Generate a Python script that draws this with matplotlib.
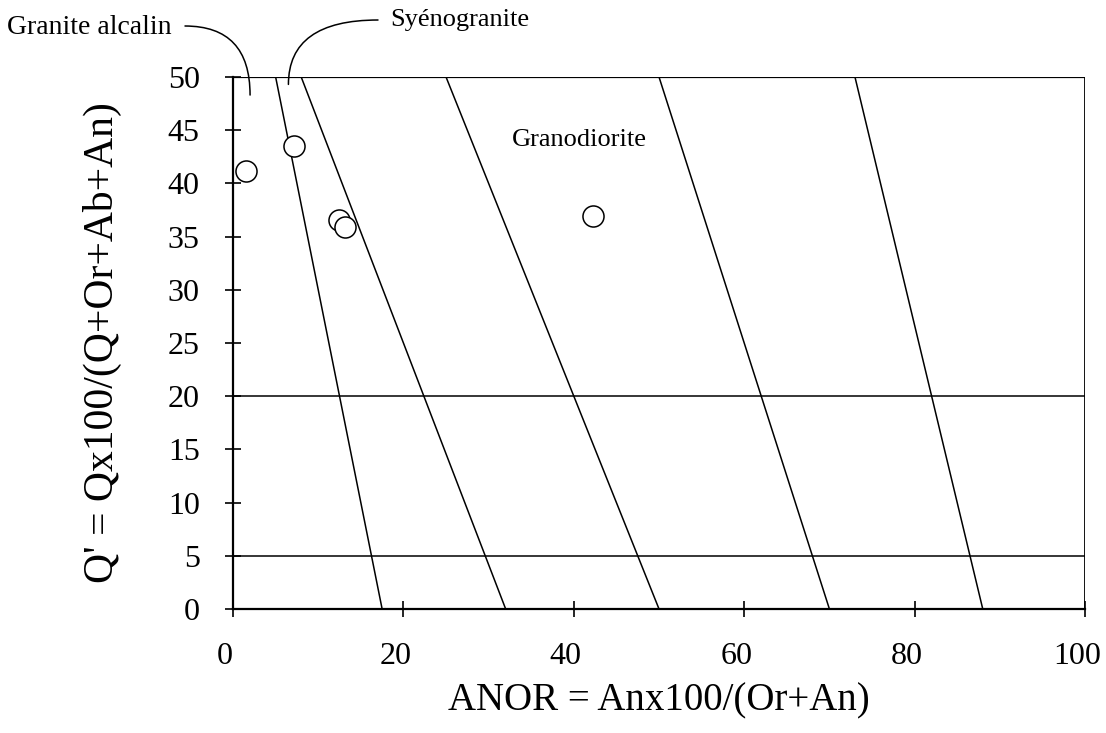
import matplotlib.pyplot as plt
from matplotlib.transforms import ScaledTranslation

plt.rcParams['font.family'] = ['Liberation Serif', 'DejaVu Serif']

# ANOR / Q' values of the samples
anor = [1.5, 7.1, 12.4, 13.2, 42.2]
qprime = [41.2, 43.5, 36.6, 35.9, 36.9]

# sloping field boundaries: ANOR at Q'=50 (top) and at Q'=0 (bottom)
bound_top = [5, 8, 25, 50, 73]
bound_bottom = [17.5, 32, 50, 70, 88]
# horizontal boundaries
hlines = [5, 20]

fig = plt.figure(figsize=(11.06, 7.33), dpi=100)
ax = fig.add_axes([0.2107, 0.1692, 0.7703, 0.7258])

for t, b in zip(bound_top, bound_bottom):
    ax.plot([t, b], [50, 0], color='black', lw=1.1)
for h in hlines:
    ax.plot([0, 100], [h, h], color='black', lw=1.1)
ax.plot([0, 100], [50, 50], color='black', lw=1.6)
ax.plot([100, 100], [0, 50], color='black', lw=1.3)

ax.scatter(anor, qprime, s=230, facecolors='white', edgecolors='black',
           linewidths=1.1, zorder=3)

ax.set_xlim(0, 100)
ax.set_ylim(0, 50)
ax.set_xticks(range(0, 101, 20))
ax.set_yticks(range(0, 51, 5))
ax.tick_params(direction='inout', length=12, width=1.2, labelsize=23)
ax.tick_params(axis='y', pad=18)
ax.tick_params(axis='x', pad=18)
# x tick labels sit a little left of their ticks in the original
shift = ScaledTranslation(-8 / 100, 0, fig.dpi_scale_trans)
for lab in ax.get_xticklabels():
    lab.set_transform(lab.get_transform() + shift)
for s in ['top', 'right']:
    ax.spines[s].set_visible(False)
for s in ['left', 'bottom']:
    ax.spines[s].set_linewidth(1.6)

ax.set_xlabel('ANOR = Anx100/(Or+An)', fontsize=28, labelpad=8)
ax.set_ylabel("Q' = Qx100/(Q+Or+Ab+An)", fontsize=30, labelpad=33)

ax.text(40.7, 44.1, 'Granodiorite', fontsize=19, ha='center', va='center')

# top labels with curved leaders
fig.text(7, 706, 'Granite alcalin', fontsize=20, ha='left', va='center',
         transform=None)
fig.text(390, 713, 'Syénogranite', fontsize=19, ha='left', va='center',
         transform=None)
ax.annotate('', xy=(2.0, 48.3), xycoords='data',
            xytext=(185, 707), textcoords='figure pixels',
            arrowprops=dict(arrowstyle='-', lw=1.1, color='black',
                            connectionstyle='angle3,angleA=0,angleB=90',
                            shrinkA=0, shrinkB=0),
            annotation_clip=False)
ax.annotate('', xy=(6.5, 49.3), xycoords='data',
            xytext=(378, 713), textcoords='figure pixels',
            arrowprops=dict(arrowstyle='-', lw=1.1, color='black',
                            connectionstyle='angle3,angleA=0,angleB=90',
                            shrinkA=0, shrinkB=0),
            annotation_clip=False)

fig.savefig('out.png', dpi=100)
